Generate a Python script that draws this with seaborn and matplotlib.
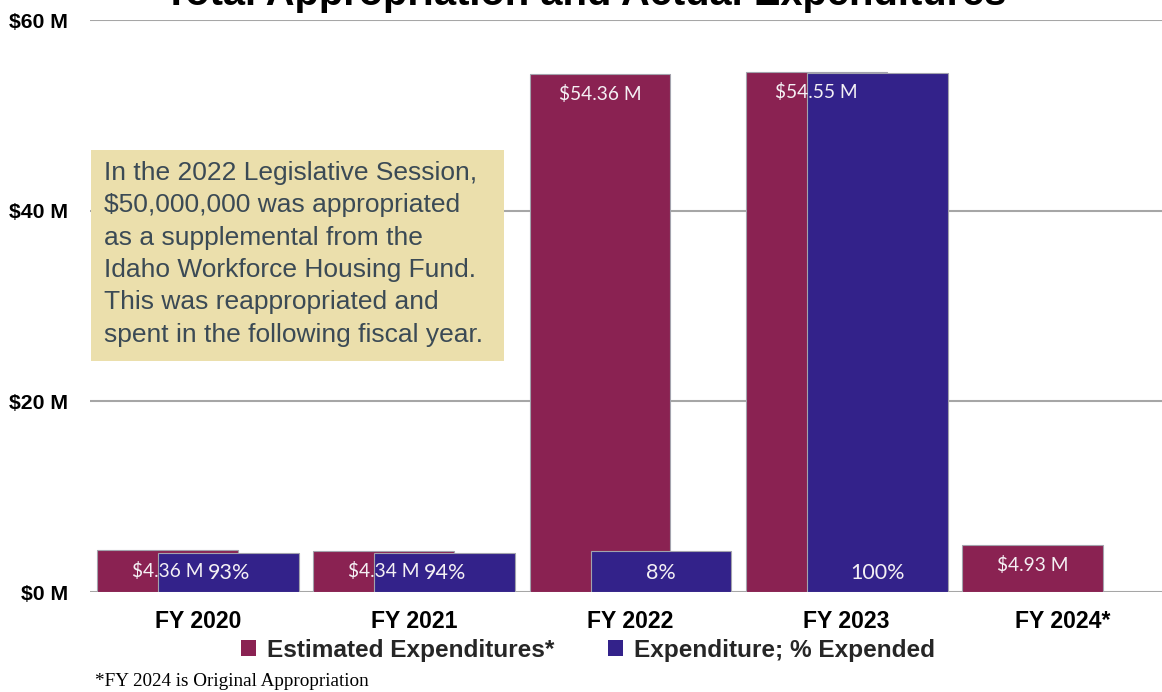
import numpy as np
import pandas as pd
import matplotlib
matplotlib.use("Agg")
import matplotlib.pyplot as plt
import seaborn as sns
from matplotlib.patches import Rectangle, Patch
from matplotlib.ticker import FixedLocator

# ---- data ----
categories = ["FY 2020", "FY 2021", "FY 2022", "FY 2023", "FY 2024*"]
estimated = [4.36, 4.34, 54.36, 54.55, 4.93]
expended = [4.05, 4.08, 4.35, 54.40, np.nan]
pct_labels = ["93%", "94%", "8%", "100%", ""]
est_labels = ["$4.36 M", "$4.34 M", "$54.36 M", "$54.55 M", "$4.93 M"]
y_ticks = [0, 20, 40, 60]
y_ticklabels = ["$0 M", "$20 M", "$40 M", "$60 M"]
series_names = ["Estimated Expenditures*", "Expenditure; % Expended"]

MAROON = "#8A2252"
BLUE = "#33228A"
EDGE = "#A3A3AD"
GRID = "#A6A6A6"

sns.set_theme(style="white")
plt.rcParams["font.family"] = ["Liberation Sans", "DejaVu Sans"]

fig = plt.figure(figsize=(11.62, 6.92), dpi=100)
W, H = 1162, 692
ax = fig.add_axes([90 / W, 1 - 592 / H, 1081 / W, 572 / H])

df_est = pd.DataFrame({"cat": categories, "val": estimated})
df_exp = pd.DataFrame({"cat": categories, "val": expended})

bar_w = 0.652
offset = 0.141

sns.barplot(data=df_est, x="cat", y="val", color=MAROON, saturation=1,
            width=bar_w, edgecolor=EDGE, linewidth=0.8, ax=ax, zorder=2)
n_est = len(ax.patches)
sns.barplot(data=df_exp, x="cat", y="val", color=BLUE, saturation=1,
            width=bar_w, edgecolor=EDGE, linewidth=0.8, ax=ax, zorder=3)

# overlap: shift maroon left, blue right
for i, p in enumerate(ax.patches):
    if i < n_est:
        p.set_x(p.get_x() - offset)
    else:
        p.set_x(p.get_x() + offset)

label_font = dict(family=["Lato", "DejaVu Sans"], color="#F4F0F4", fontsize=13.8, zorder=6)
est_patches = ax.patches[:n_est]
exp_patches = ax.patches[n_est:]
for p, lab in zip(est_patches, est_labels):
    cx = p.get_x() + p.get_width() / 2
    ax.annotate(lab, xy=(cx, p.get_height()), xytext=(0, -14.5),
                textcoords="offset points", ha="center", va="center", **label_font)
for p, lab in zip(exp_patches, pct_labels):
    h = p.get_height()
    if not lab or np.isnan(h):
        continue
    cx = p.get_x() + p.get_width() / 2
    ax.annotate(lab, xy=(cx, 0), xytext=(0, 13.5),
                textcoords="offset points", ha="center", va="center",
                **{**label_font, "fontsize": 15.5})

ax.set_xlim(-0.5, 4.5)
ax.set_ylim(0, 60)
ax.yaxis.set_major_locator(FixedLocator(y_ticks))
ax.set_yticklabels(y_ticklabels, fontsize=15.3, fontweight="bold", color="black")
ax.tick_params(axis="y", length=0, pad=16)
ax.tick_params(axis="x", length=0, pad=13)
for t in ax.get_xticklabels():
    t.set_fontsize(16.6)
    t.set_fontweight("bold")
    t.set_color("black")
ax.set_xlabel("")
ax.set_ylabel("")
ax.grid(axis="y", color=GRID, linewidth=1.5, zorder=0)
ax.set_axisbelow(True)
for s in ax.spines.values():
    s.set_visible(False)

# annotation box
box = Rectangle((91 / W, 1 - 361 / H), 413 / W, 211 / H, transform=fig.transFigure,
                facecolor="#EBDFAC", edgecolor="none", zorder=5, clip_on=False)
ax.add_artist(box)
note = ("In the 2022 Legislative Session,\n$50,000,000 was appropriated\n"
        "as a supplemental from the\nIdaho Workforce Housing Fund.\n"
        "This was reappropriated and\nspent in the following fiscal year.")
fig.text(104 / W, 1 - 161 / H, note, ha="left", va="top", fontsize=19,
         color="#3B4A55", linespacing=1.44, zorder=7)

# title (cut off at top as in reference)
fig.text(585 / W, 1 - 5 / H, "Total Appropriation and Actual Expenditures",
         ha="center", va="baseline", fontsize=28.7, fontweight="bold", color="black")

# legend
handles = [Patch(facecolor=MAROON, edgecolor="none"), Patch(facecolor=BLUE, edgecolor="none")]
fig.legend(handles, series_names, loc="center", bbox_to_anchor=(588 / W, 1 - 650 / H),
           ncol=2, frameon=False, handlelength=0.6, handleheight=0.6, handletextpad=0.45,
           columnspacing=2.2, prop=dict(family=["Liberation Sans"], weight="bold", size=17.6))

# footnote
fig.text(95 / W, 1 - 681 / H, "*FY 2024 is Original Appropriation", ha="left", va="center",
         fontsize=13.8, family=["Liberation Serif", "DejaVu Serif"], color="black")

fig.savefig("out.png", dpi=100)
